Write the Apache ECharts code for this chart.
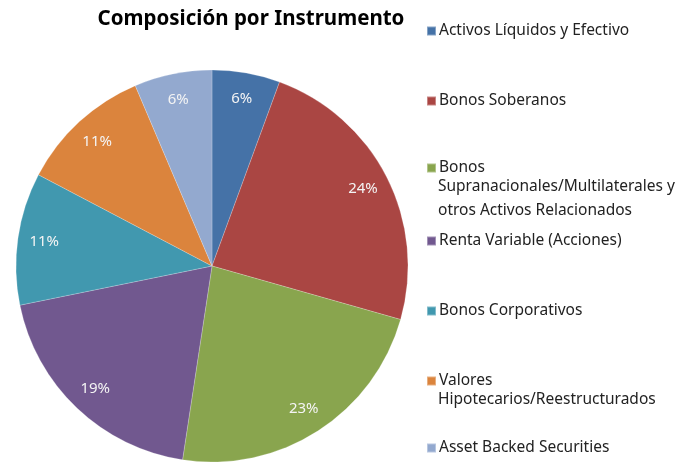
<!DOCTYPE html>
<html lang="es">
<head>
    <meta charset="UTF-8">
    <script src="https://cdn.jsdelivr.net/npm/echarts@6/dist/echarts.min.js"></script>
    <title>Composición por Instrumento</title>
    <style>
        html, body {
            margin: 0;
            padding: 0;
            width: 100%;
            height: 100%;
            overflow: hidden;
            background: #fff;
        }
        #chart {
            width: 694px;
            height: 462px;
        }
    </style>
</head>
<body>
<div id="chart"></div>
<script>
    // datos (porcentaje)
    var categories = [
        'Activos Líquidos y Efectivo',
        'Bonos Soberanos',
        'Bonos Supranacionales/Multilaterales y otros Activos Relacionados',
        'Renta Variable (Acciones)',
        'Bonos Corporativos',
        'Valores Hipotecarios/Reestructurados',
        'Asset Backed Securities'
    ];
    var values = [5.6, 23.8, 23.0, 19.4, 10.9, 10.9, 6.4];
    // lineas de texto de la leyenda
    var legendLines = [
        ['Activos Líquidos y Efectivo'],
        ['Bonos Soberanos'],
        ['Bonos', 'Supranacionales/Multilaterales y', 'otros Activos Relacionados'],
        ['Renta Variable (Acciones)'],
        ['Bonos Corporativos'],
        ['Valores', 'Hipotecarios/Reestructurados'],
        ['Asset Backed Securities']
    ];

    var colors = ['#4572A7', '#AA4643', '#89A54E', '#71588F', '#4198AF', '#DB843D', '#93A9CF'];
    var font = '"Noto Sans", sans-serif';

    var legendTops = [28, 98, 165, 238, 308, 378, 445];
    var lineGap = 24;

    var pieData = categories.map(function (c, i) {
        return {name: c, value: values[i]};
    });

    var legends = [];
    var texts = [];
    categories.forEach(function (c, i) {
        legends.push({
            data: [c],
            left: 421,
            top: legendTops[i] - 11,
            itemWidth: 9,
            itemHeight: 9,
            icon: 'rect',
            selectedMode: false,
            formatter: function () { return legendLines[i][0]; },
            textStyle: {fontFamily: font, fontSize: 15.5, color: '#222', lineHeight: 18, padding: [0, 0, 0, -2]}
        });
        for (var k = 1; k < legendLines[i].length; k++) {
            texts.push({
                type: 'text',
                left: 438,
                top: legendTops[i] + k * lineGap - 10,
                style: {text: legendLines[i][k], font: '15.5px ' + font, fill: '#222'}
            });
        }
    });

    var myChart = echarts.init(document.getElementById('chart'));
    var option = {
        color: colors,
        animation: false,
        title: {
            text: 'Composición por Instrumento',
            left: 246,
            top: 4,
            textAlign: 'center',
            textStyle: {fontFamily: font, fontSize: 20.5, fontWeight: 'bold', color: '#000'}
        },
        legend: legends,
        graphic: texts,
        series: [
            {
                type: 'pie',
                center: [212, 266],
                radius: 196,
                startAngle: 90,
                clockwise: true,
                label: {show: false},
                labelLine: {show: false},
                itemStyle: {borderColor: 'rgba(255,255,255,0.35)', borderWidth: 0.6},
                emphasis: {disabled: true},
                data: pieData
            },
            {
                // capa solo para las etiquetas, mas cerca del borde
                type: 'pie',
                center: [212, 266],
                radius: [137, 196],
                startAngle: 90,
                clockwise: true,
                silent: true,
                percentPrecision: 0,
                itemStyle: {color: 'rgba(0,0,0,0)', borderWidth: 0},
                label: {
                    show: true,
                    position: 'inside',
                    formatter: '{d}%',
                    fontFamily: font,
                    fontSize: 15,
                    color: '#f4f4f4'
                },
                labelLine: {show: false},
                emphasis: {disabled: true},
                data: pieData
            }
        ]
    };
    myChart.setOption(option);
</script>
</body>
</html>
